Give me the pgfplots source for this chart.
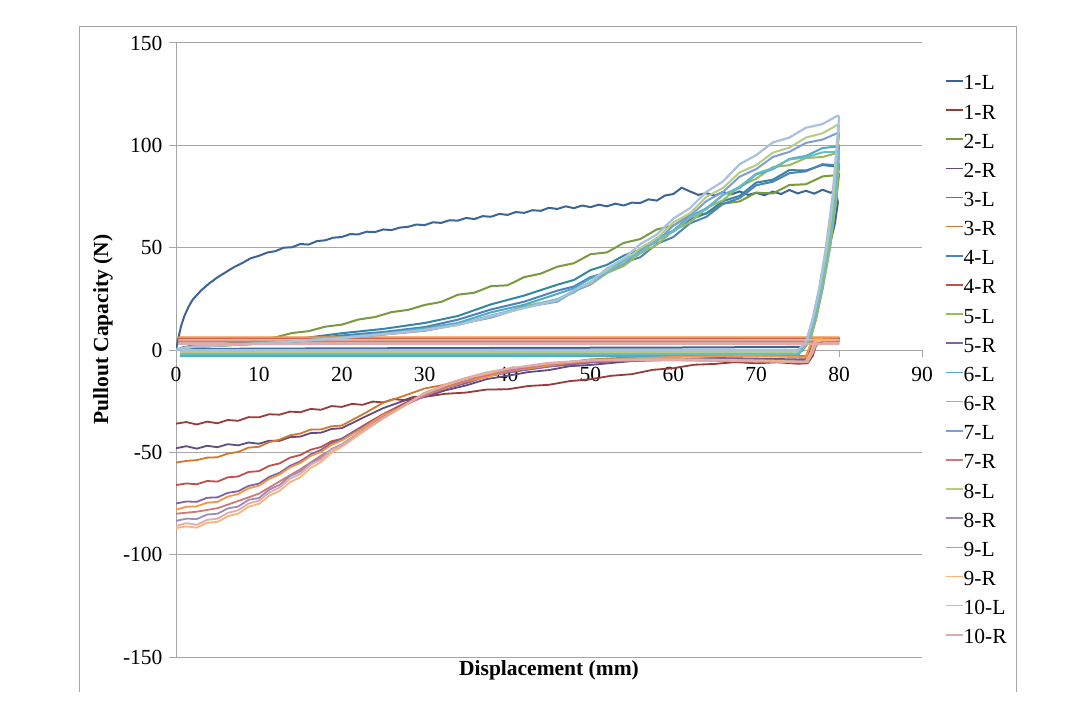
\documentclass[border=0pt]{standalone}
\usepackage{fontspec}
\setmainfont{Liberation Serif}
\usepackage{pgfplots}
\pgfplotsset{compat=1.18}
\definecolor{c1}{HTML}{3C6494}
\definecolor{c2}{HTML}{963C3A}
\definecolor{c3}{HTML}{7A9A40}
\definecolor{c4}{HTML}{604C7E}
\definecolor{c5}{HTML}{33889F}
\definecolor{c6}{HTML}{D0782E}
\definecolor{c7}{HTML}{4F81BD}
\definecolor{c8}{HTML}{C0504D}
\definecolor{c9}{HTML}{9BBB59}
\definecolor{c10}{HTML}{8064A2}
\definecolor{c11}{HTML}{4BACC6}
\definecolor{c12}{HTML}{F79646}
\definecolor{c13}{HTML}{7E9DD0}
\definecolor{c14}{HTML}{D07A78}
\definecolor{c15}{HTML}{B5CC86}
\definecolor{c16}{HTML}{9D8BBA}
\definecolor{c17}{HTML}{6EBAC4}
\definecolor{c18}{HTML}{F9B47E}
\definecolor{c19}{HTML}{A9C0DE}
\definecolor{c20}{HTML}{E1ABAA}
\definecolor{gridc}{HTML}{A6A6A6}
\begin{document}
\begin{tikzpicture}
\useasboundingbox (0,0) rectangle (1079pt,710pt);
\fill[white] (0,0) rectangle (1079pt,710pt);
\draw[gridc, line width=1pt] (79pt,18pt) -- (79pt,683pt) -- (1016pt,683pt) -- (1016pt,18pt);
\begin{axis}[
  at={(176pt,53pt)}, anchor=south west, scale only axis,
  width=746pt, height=614pt,
  xmin=0, xmax=90, ymin=-150, ymax=150,
  axis y line=left, axis x line=middle,
  axis line style={-, draw=gridc, line width=1pt},
  xtick={0,10,...,90}, ytick={-150,-100,...,150},
  hide obscured x ticks=false, hide obscured y ticks=false,
  ymajorgrids, grid style={gridc, line width=1pt},
  major tick length=7pt, tick style={gridc, line width=1pt},
  tick align=outside,
  ticklabel style={font=\fontsize{21.5}{21.5}\selectfont},
  /pgf/number format/assume math mode=true,
  xticklabel style={yshift=-7pt},
  yticklabel style={xshift=-3pt},
  xlabel={\textbf{Displacement (mm)}},
  ylabel={\textbf{Pullout Capacity (N)}},
  label style={font=\fontsize{21.5}{21.5}\selectfont},
  xlabel style={at={(axis description cs:0.5,-0.021)}, anchor=center},
  ylabel style={at={(axis description cs:-0.098,0.533)}, anchor=center, rotate=0},
  legend style={at={(axis description cs:1.0308,0.948)}, anchor=north west,
    draw=none, fill=none, inner sep=0pt, outer sep=0pt,
    font=\fontsize{21.5}{21.5}\selectfont, row sep=9.15pt,
    nodes={inner sep=0pt, text height=15pt, text depth=5pt},
    /tikz/column 2/.style={column sep=3pt}},
  legend cell align=left,
  legend image code/.code={\draw[#1, line width=1.6pt] (0pt,4pt) -- (17pt,4pt);},
  every axis plot/.append style={line join=round},
]
% 1-L
\addplot[c1, line width=2pt] coordinates {(0,0) (0.3,6) (0.6,11.5) (1,16.5) (1.5,21) (2,24.5) (3,29) (4,32.5) (5,35.5) (6,38) (7,40.5) (8,42.5) (9,44.8) (10,46) (11,47.6) (12,48.3) (13,50) (14,50.2) (15,51.8) (16,51.5) (17,53.2) (18,53.6) (19,54.9) (20,55.2) (21,56.6) (22,56.5) (23,57.8) (24,57.6) (25,58.9) (26,58.6) (27,59.8) (28,60.2) (29,61.3) (30,61) (31,62.4) (32,62.1) (33,63.4) (34,63.2) (35,64.5) (36,64) (37,65.4) (38,65.1) (39,66.5) (40,66) (41,67.4) (42,67) (43,68.3) (44,68) (45,69.5) (46,68.9) (47,70.2) (48,69.3) (49,70.6) (50,69.8) (51,71) (52,70.2) (53,71.5) (54,70.6) (55,72) (56,71.8) (57,73.6) (58,73) (59,75.5) (60,76.2) (61,79.3) (62,77.5) (63,75.8) (64,76.6) (65,75.4) (66,77.2) (67,76) (68,77.5) (69,75.8) (70,76.8) (71,75.6) (72,77.4) (73,76.2) (74,78.2) (75,76.5) (76,77.8) (77,76.4) (78,78.3) (79,76.8) (79.6,78) (79.85,72) (79.5,62) (78.8,50) (78,32) (77.2,17) (76.5,7) (76,3) (75.5,1.5) (60,1.2) (40,1) (20,0.8) (0.5,0.5)};
\addlegendentry{1-L}
% 1-R
\addplot[c2, line width=1.8pt] coordinates {(0,-36) (1.25,-35.2) (2.5,-36.4) (3.75,-35) (5,-35.8) (6.25,-34.2) (7.5,-34.6) (8.75,-32.8) (10,-32.9) (11.25,-31.4) (12.5,-31.6) (13.75,-30.1) (15,-30.4) (16.25,-28.8) (17.5,-29.2) (18.75,-27.4) (20,-27.8) (21.25,-26.3) (22.5,-26.8) (23.75,-25.2) (25,-25.6) (26.25,-24) (27.5,-24.5) (28.75,-22.8) (30,-22.9) (32.5,-21.4) (35,-20.8) (37.5,-19.3) (40,-19.2) (42.5,-17.6) (45,-17) (47.5,-15.2) (50,-14.3) (52.5,-12.6) (55,-11.8) (57.5,-9.7) (60,-8.9) (62.5,-7.2) (65,-6.8) (67.5,-5.9) (70,-6.5) (72.5,-6) (75,-6.7) (76.2,-6.5) (76.8,-3) (77.2,2) (77.8,4.6) (78.6,5.4) (80,5.5) (40,5.5) (0.3,5.4)};
\addlegendentry{1-R}
% 2-L
\addplot[c3, line width=2pt] coordinates {(0,0) (1,1.2) (2,1.8) (4,2.4) (6,3.1) (8,3.8) (10,5.2) (12,6.2) (14,8.3) (16,9.2) (18,11.4) (20,12.4) (22,14.9) (24,16.1) (26,18.5) (28,19.6) (30,22) (32,23.5) (34,27) (36,28) (38,31.2) (40,31.6) (42,35.6) (44,37.3) (46,40.7) (48,42.4) (50,46.8) (52,47.7) (54,52.3) (56,54.2) (58,58.9) (60,60.8) (62,65.8) (64,66.7) (66,71.5) (68,72.6) (70,76.9) (72,76.5) (74,80.6) (76,81) (78,84.8) (79.8,85.5) (80,86) (79.7,75) (78.9,50) (78,30) (77.2,15) (76.5,5) (76,2) (75.5,-0.5) (40,-0.8) (0.5,-1)};
\addlegendentry{2-L}
% 2-R
\addplot[c4, line width=1.8pt] coordinates {(0,-48) (1.25,-47) (2.5,-48.2) (3.75,-46.8) (5,-47.5) (6.25,-46) (7.5,-46.6) (8.75,-45.2) (10,-45.8) (11.25,-44.3) (12.5,-44.4) (13.75,-42.6) (15,-42.3) (16.25,-40.6) (17.5,-40.4) (18.75,-38.6) (20,-38.2) (22.5,-33.2) (25,-28.4) (27.5,-24.8) (30,-22.9) (32.5,-19.7) (35,-17.3) (37.5,-14.2) (40,-12.6) (42.5,-10.8) (45,-9.8) (47.5,-7.9) (50,-7.3) (55,-5.4) (60,-4.7) (65,-3.9) (70,-4.2) (75,-4.6) (76,-4.5) (76.5,0) (77,3.8) (78,4.8) (80,5) (0.3,5)};
\addlegendentry{2-R}
% 3-L
\addplot[c5, line width=2pt] coordinates {(0,0) (1,1.5) (2,2) (5,2.7) (10,3.8) (15,5.6) (20,8.2) (25,10.3) (30,13.2) (34,16.6) (38,22.3) (42,26.6) (46,31.9) (48,34.2) (50,39) (52,41.6) (54,46.1) (56,49) (58,54.6) (60,57.9) (62,63.7) (64,66.8) (66,72.8) (68,75.3) (70,81.8) (72,83.2) (74,87.9) (76,87.7) (78,90.4) (79.8,89.5) (80,90) (79.4,75) (78.6,50) (77.7,30) (76.9,15) (76.2,5) (75.7,2) (75,-2) (0.5,-2.2)};
\addlegendentry{3-L}
% 3-R
\addplot[c6, line width=1.8pt] coordinates {(0,-55) (1.25,-54.2) (2.5,-53.8) (3.75,-52.6) (5,-52.4) (6.25,-50.6) (7.5,-49.8) (8.75,-47.7) (10,-47.3) (11.25,-45) (12.5,-43.8) (13.75,-41.7) (15,-40.8) (16.25,-38.9) (17.5,-38.8) (18.75,-37.3) (20,-36.9) (22.5,-31.5) (25,-25.8) (27.5,-22.4) (30,-18.8) (32.5,-16.9) (35,-13.8) (37.5,-12.3) (40,-9.8) (45,-7.2) (50,-4.6) (55,-3.6) (60,-3.1) (65,-2.6) (70,-2.5) (75,-3) (76,-3) (76.5,2) (77,5.5) (80,6) (0.3,6)};
\addlegendentry{3-R}
% 4-L
\addplot[c7, line width=2pt] coordinates {(0,0) (1,1) (2,1.5) (5,2.2) (10,3.2) (15,4.9) (20,7.1) (25,8.8) (30,11.2) (34,14.8) (38,19.8) (42,23.6) (46,29) (48,31) (50,35.6) (52,37.9) (54,42.7) (56,45.3) (58,51.8) (60,55.2) (62,61.9) (64,65.1) (66,71.4) (68,74.2) (70,80.5) (72,82.2) (74,86.4) (76,87.3) (78,90.8) (79.8,90.2) (80,91) (79.6,75) (78.8,50) (77.9,30) (77.1,15) (76.4,5) (75.9,2) (75,-1.5) (0.5,-1.5)};
\addlegendentry{4-L}
% 4-R
\addplot[c8, line width=1.8pt] coordinates {(0,-66) (1.25,-65.2) (2.5,-65.6) (3.75,-64) (5,-64.3) (6.25,-62.2) (7.5,-61.8) (8.75,-59.6) (10,-59.2) (11.25,-56.6) (12.5,-55.4) (13.75,-52.6) (15,-51.3) (16.25,-48.7) (17.5,-47.4) (18.75,-44.6) (20,-43.4) (22.5,-37.2) (25,-31.3) (27.5,-26.2) (30,-21.9) (32.5,-18.1) (35,-15.2) (37.5,-12.4) (40,-10.7) (45,-8.1) (50,-6) (55,-5.1) (60,-4.6) (65,-4.4) (70,-5) (75,-5.6) (76.2,-5.5) (76.7,-1) (77.1,3.5) (78,5.2) (80,5.5) (0.3,5.5)};
\addlegendentry{4-R}
% 5-L
\addplot[c9, line width=2pt] coordinates {(0,0) (1,1) (2,1.4) (5,2) (10,3) (15,4.3) (20,5.9) (25,7.5) (30,9.4) (34,12.3) (38,16.2) (42,21.4) (46,24.6) (48,28.9) (50,32.1) (52,37.6) (54,41) (56,47.2) (58,51.4) (60,58.3) (62,62.3) (64,69.4) (66,73.2) (68,79.9) (70,83.7) (72,89.4) (74,90.3) (76,93.8) (78,94.3) (79.8,96.3) (80,96) (79.7,75) (78.9,50) (78,30) (77.2,15) (76.5,5) (76,2) (75,-1) (0.5,-1)};
\addlegendentry{5-L}
% 5-R
\addplot[c10, line width=1.8pt] coordinates {(0,-75) (1.25,-74) (2.5,-74.2) (3.75,-72.2) (5,-72) (6.25,-69.8) (7.5,-69) (8.75,-66.4) (10,-65.3) (11.25,-62) (12.5,-60) (13.75,-56.6) (15,-54.4) (16.25,-51) (17.5,-48.8) (18.75,-45.5) (20,-43.3) (22.5,-37.6) (25,-32.2) (27.5,-26.8) (30,-22.7) (32.5,-18.8) (35,-16.2) (37.5,-12.9) (40,-11.1) (45,-8) (50,-6.1) (55,-4.9) (60,-4.6) (65,-4) (70,-4.5) (75,-5) (76,-5) (76.6,-0.5) (77,3.5) (78,4.5) (80,4.5) (0.3,4.5)};
\addlegendentry{5-R}
% 6-L
\addplot[c11, line width=2pt] coordinates {(0,0) (1,1) (2,1.5) (5,2.1) (10,3.1) (15,4.5) (20,6.3) (25,8.1) (30,10.6) (34,13.2) (38,18.4) (42,22.1) (46,27.4) (48,30.1) (50,35) (52,38.4) (54,44.1) (56,48) (58,54.2) (60,58.4) (62,65.3) (64,69.2) (66,75.9) (68,79.2) (70,85.8) (72,88.3) (74,93.4) (76,94.8) (78,98.7) (79.8,99.4) (80,100) (79.5,75) (78.7,50) (77.8,30) (77,15) (76.3,5) (75.8,2) (75,-3) (0.5,-3)};
\addlegendentry{6-L}
% 6-R
\addplot[c12, line width=1.8pt] coordinates {(0,-78) (1.25,-76.6) (2.5,-76.4) (3.75,-74.6) (5,-74.2) (6.25,-71.6) (7.5,-70.4) (8.75,-67.6) (10,-66.3) (11.25,-63) (12.5,-60.8) (13.75,-57.4) (15,-55.2) (16.25,-51.8) (17.5,-49.7) (18.75,-46.4) (20,-44.2) (22.5,-38.3) (25,-31.8) (27.5,-27.3) (30,-21.8) (32.5,-18.6) (35,-15.3) (37.5,-13.2) (40,-10.4) (45,-7.6) (50,-5) (55,-4.1) (60,-3.4) (65,-3.1) (70,-2.9) (75,-3.5) (76,-3.5) (76.5,2) (77,5.8) (80,6.2) (0.3,6.2)};
\addlegendentry{6-R}
% 7-L
\addplot[c13, line width=2pt] coordinates {(0,0) (1,1) (2,1.6) (5,2.2) (10,3.2) (15,4.4) (20,5.8) (25,7.6) (30,9.5) (34,12.6) (38,15.8) (42,20.9) (46,23.6) (48,28.6) (50,32) (52,38.2) (54,42) (56,48.7) (58,52.9) (60,60.8) (62,65.4) (64,72.8) (66,77.3) (68,84.7) (70,88.4) (72,94.3) (74,96.8) (76,101.2) (78,102.8) (79.8,106) (80,106) (79.3,75) (78.5,50) (77.6,30) (76.8,15) (76.1,5) (75.6,2) (75,-0.5) (0.5,-0.5)};
\addlegendentry{7-L}
% 7-R
\addplot[c14, line width=1.8pt] coordinates {(0,-80) (2.5,-79) (5,-77.3) (7.5,-73.8) (10,-70.2) (12.5,-64.2) (15,-58.3) (17.5,-51.6) (20,-46.2) (22.5,-39.3) (25,-33.2) (27.5,-27.2) (30,-22.3) (32.5,-18.2) (35,-15.1) (37.5,-12.2) (40,-10.2) (45,-7.1) (50,-5.6) (55,-5.2) (60,-5) (65,-5.3) (70,-5.6) (75,-6) (76,-6) (76.6,-1) (77,3) (78,4) (80,4) (0.3,4)};
\addlegendentry{7-R}
% 8-L
\addplot[c15, line width=2pt] coordinates {(0,0) (1,1.1) (2,1.7) (5,2.3) (10,3.3) (15,4.6) (20,6) (25,7.8) (30,9.8) (34,12.2) (38,16.4) (42,20.6) (46,24.4) (48,28.9) (50,32.6) (52,38.6) (54,43) (56,49.8) (58,54.4) (60,62.3) (62,66.8) (64,74.9) (66,79.2) (68,86.8) (70,90.3) (72,96.4) (74,98.9) (76,103.8) (78,105.9) (79.8,110) (80,110) (79.4,75) (78.6,50) (77.7,30) (76.9,15) (76.2,5) (75.7,2) (75,-1) (0.5,-1)};
\addlegendentry{8-L}
% 8-R
\addplot[c16, line width=1.8pt] coordinates {(0,-83.5) (1.25,-82.4) (2.5,-82.6) (3.75,-80.4) (5,-80) (6.25,-77.4) (7.5,-76.5) (8.75,-73.2) (10,-72.3) (11.25,-68.2) (12.5,-65.9) (13.75,-61.6) (15,-59.3) (16.25,-55) (17.5,-52.8) (18.75,-48.4) (20,-46.2) (22.5,-39.6) (25,-32.8) (27.5,-27.3) (30,-20.9) (32.5,-17.2) (35,-13.9) (37.5,-11.7) (40,-9.4) (45,-6.6) (50,-5) (55,-4.6) (60,-4.4) (65,-4.7) (70,-5) (75,-5.5) (76,-5.5) (76.6,-1) (77,3.5) (78,4.5) (80,4.5) (0.3,4.5)};
\addlegendentry{8-R}
% 9-L
\addplot[c17, line width=2pt] coordinates {(0,0) (1,1) (2,1.5) (5,2.1) (10,3.1) (15,4.4) (20,6) (25,7.9) (30,10.1) (34,12.4) (38,16.9) (42,20.8) (46,24.9) (48,28.1) (50,33.4) (52,37.7) (54,43.6) (56,47.6) (58,53.7) (60,57.9) (62,64.6) (64,68.8) (66,75.7) (68,79.8) (70,86.2) (72,88.9) (74,93.1) (76,94.1) (78,96.6) (79.8,96.8) (80,97) (79.6,75) (78.8,50) (77.9,30) (77.1,15) (76.4,5) (75.9,2) (75,-2) (0.5,-2)};
\addlegendentry{9-L}
% 9-R
\addplot[c18, line width=1.8pt] coordinates {(0,-87) (1.25,-86.2) (2.5,-86.8) (3.75,-84.4) (5,-84) (6.25,-81.2) (7.5,-80) (8.75,-76.6) (10,-75.2) (11.25,-71.2) (12.5,-68.8) (13.75,-64.6) (15,-62.2) (16.25,-57.6) (17.5,-54.8) (18.75,-50.2) (20,-47.3) (22.5,-40.2) (25,-33.5) (27.5,-27.4) (30,-21.2) (32.5,-17.3) (35,-13.8) (37.5,-11.6) (40,-9.1) (45,-6.6) (50,-5.1) (55,-4.6) (60,-4.5) (65,-4.8) (70,-5.1) (75,-5.6) (76,-5.6) (76.6,-1) (77,3.8) (78,4.8) (80,5) (0.3,5)};
\addlegendentry{9-R}
% 10-L
\addplot[c19, line width=2.2pt] coordinates {(0,0) (1,1) (2,1.6) (5,2.2) (10,3.2) (15,4.4) (20,5.9) (25,7.7) (30,9.8) (34,12.3) (38,16.5) (42,20.5) (46,24.3) (48,29.2) (50,33.2) (52,39.9) (54,44.6) (56,51.7) (58,56.4) (60,64.2) (62,69.3) (64,77.3) (66,82.4) (68,90.8) (70,95.2) (72,101.4) (74,103.8) (76,108.6) (78,110.4) (79.8,114.5) (80,114) (79.2,75) (78.4,50) (77.6,30) (76.8,15) (76.1,5) (75.6,2) (75,0) (0.5,0)};
\addlegendentry{10-L}
% 10-R
\addplot[c20, line width=1.8pt] coordinates {(0,-86) (1.25,-84.6) (2.5,-85.4) (3.75,-83) (5,-82.4) (6.25,-79.6) (7.5,-78.3) (8.75,-75) (10,-73.6) (11.25,-69.6) (12.5,-67.2) (13.75,-62.8) (15,-60.6) (16.25,-56) (17.5,-53.6) (18.75,-48.9) (20,-46.6) (22.5,-39.6) (25,-33.2) (27.5,-27.1) (30,-21.2) (32.5,-16.8) (35,-13.6) (37.5,-10.9) (40,-9.1) (45,-6.2) (50,-5) (55,-4.8) (60,-5) (65,-5.2) (70,-5.5) (75,-6) (76.2,-6) (76.8,-1.5) (77.2,2.5) (78,3) (80,3) (0.3,3)};
\addlegendentry{10-R}
\end{axis}
\end{tikzpicture}
\end{document}
